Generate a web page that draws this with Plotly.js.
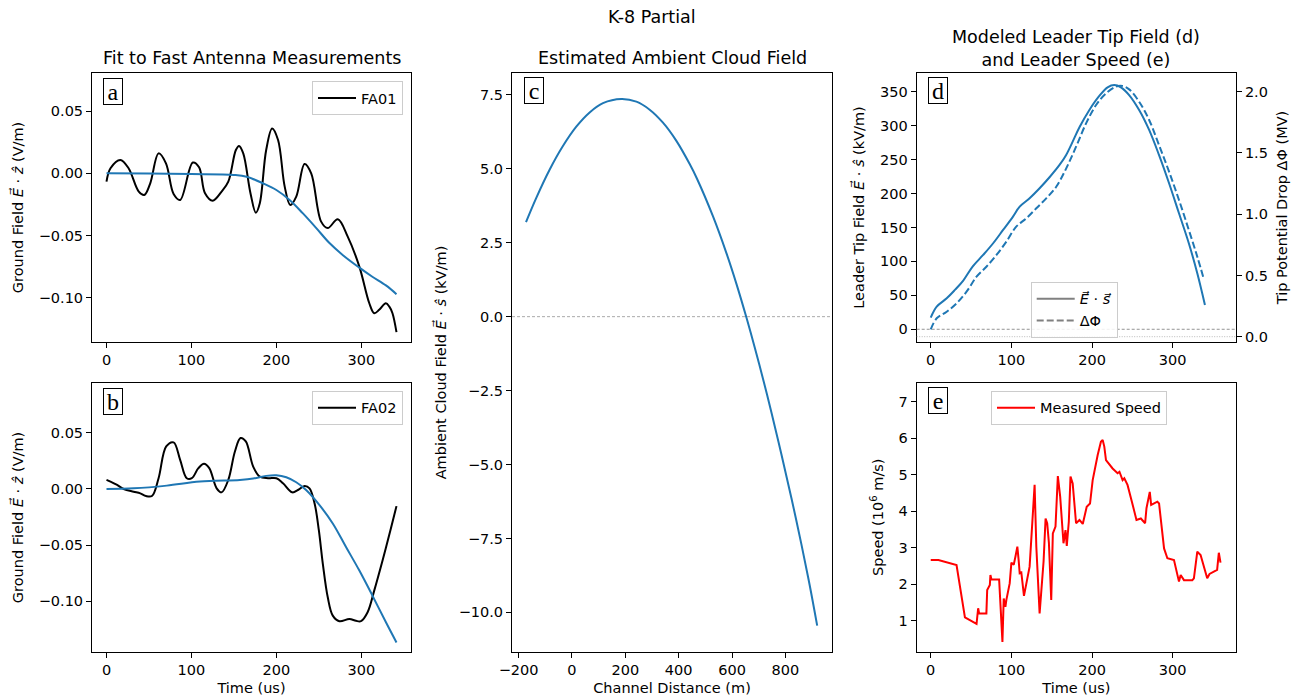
<!DOCTYPE html>
<html>
<head>
<meta charset="utf-8">
<script src="https://cdn.plot.ly/plotly-3.0.1.min.js"></script>
<style>html,body{margin:0;padding:0;background:#fff;}#chart{width:1304px;height:700px;}</style>
</head>
<body>
<div id="chart"></div>
<script>
// ---------- DATA ----------
// Panel a: FA01 measured and fit
const faTimeA = [0,4.7,16.4,26,38,44.5,51.5,61.3,70,79,86.7,101.6,109,116,125,135.5,143.4,152.3,156,161,169.5,175.8,180.5,188,195,202,209.8,216.4,223.4,233.2,241,252.7,260.5,272.3,284,297.7,309.4,315.2,321,328.9,333,336.7,341.4];
const fa01 = [-0.0067,0.004,0.0107,0.004,-0.0147,-0.0174,-0.008,0.016,0.008,-0.0166,-0.0214,0.0086,0.0048,-0.016,-0.022,-0.0147,-0.0067,0.0187,0.022,0.016,-0.016,-0.0316,-0.024,0.0187,0.036,0.0267,-0.0107,-0.0254,-0.0187,0.0075,0.0,-0.0388,-0.044,-0.0369,-0.0508,-0.0749,-0.1043,-0.1123,-0.1096,-0.1043,-0.107,-0.1123,-0.1275];
const fitTimeA = [0,50,100,150,165,184,200,215.6,231,247,262.5,278,297.7,313,329,341.4];
const fit01 = [0,-0.0002,-0.0006,-0.0013,-0.0027,-0.008,-0.0134,-0.0214,-0.032,-0.044,-0.056,-0.0655,-0.0757,-0.083,-0.090,-0.097];

// Panel b: FA02 measured and fit
const faTimeB = [0,4.7,12.5,20.3,32,39.8,46.5,53.5,61.3,70.3,79,86.7,94.5,100.4,108.2,114.8,121,129.7,135.5,143.4,151.2,157.8,164,172.7,180.5,190.2,200,207.8,218.75,225.4,233.2,239,245,250,254.7,260.5,266.4,274.2,286,293.75,299.6,307.4,315.2,325,334.8,341.4];
const fa02 = [0.0081,0.0066,0.0036,0.0,-0.0024,-0.0039,-0.0063,-0.0063,0.0096,0.038,0.0416,0.026,0.0096,0.0096,0.0186,0.0225,0.0186,0.0006,-0.003,0.0081,0.0335,0.0455,0.0425,0.02,0.011,0.0096,0.0096,0.0051,-0.003,-0.0009,0.0027,0.0006,-0.0129,-0.0368,-0.0668,-0.0967,-0.113,-0.118,-0.116,-0.1177,-0.118,-0.110,-0.0907,-0.0638,-0.0353,-0.0153];
const fitTimeB = [0,32,71,110,157,172.7,188,200,211.7,223.4,235,250.8,266.4,282,297.7,313,329,341.4];
const fit02 = [0,0.0006,0.003,0.0066,0.0081,0.0093,0.0117,0.0123,0.0105,0.006,-0.0009,-0.0144,-0.0308,-0.0518,-0.0728,-0.095,-0.119,-0.137];

// Panel c: ambient cloud field vs channel distance
const chanDist = [-172,-133.5,-83.6,-33.7,16.4,66.4,116.3,185.2,241.5,291.3,341.2,391.4,441.3,468.7,528.7,578.9,616.4,653.9,685,718.8,747.6,785.1,822.6,860.1,891.3,919];
const ambField = [3.20,4.02,4.97,5.77,6.425,6.907,7.22,7.36,7.27,7.00,6.56,5.945,5.16,4.665,3.39,2.15,1.11,-0.03,-1.04,-2.20,-3.24,-4.66,-6.14,-7.71,-9.10,-10.45];

// Panel d: leader tip field (kV/m) and potential drop (MV)
const tipTime = [0,7.4,19.8,30,40.3,51.9,65,77.4,89.7,102,110.3,122.6,135,147.3,159.7,167.9,176,184.4,196.7,209,219.3,227.6,235.8,246,258.4,270.8,283,295.5,307.8,320,330.5,340];
const tipField = [17.2,33.4,45.6,58,71.7,92.3,109.5,126.7,146.3,166,180.7,193,207.7,223.9,242,256.8,276.4,297.5,323,343.6,356.4,359.8,356.4,345,323,293.6,256.8,215,170.8,126.7,82.5,35.8];
const dropTime = [0,7.4,19.8,32,44.4,56.8,69,81.5,93.8,106,118.5,130.9,143.2,155.6,168,180.2,192.6,205,217.3,229.6,237.9,246,258.4,270.8,283,295.5,307.8,320,330.5,338.7];
const potDrop = [0.06,0.15,0.204,0.272,0.367,0.49,0.571,0.667,0.776,0.898,0.966,1.048,1.129,1.224,1.374,1.551,1.741,1.891,1.986,2.041,2.046,2.019,1.918,1.769,1.565,1.347,1.116,0.871,0.653,0.468];

// Panel e: measured speed (10^6 m/s)
const speedTime = [0,9.5,32,42.4,56.8,58.8,60,69,70,73.3,74,75.3,84.8,88.9,90.5,92.6,93.8,97.9,100,102.9,105,107.4,109,110.3,112.3,115.6,122.6,128.8,130.9,135,139.9,142.4,144.4,146.5,149.4,151.4,154.7,157.6,160.5,163,164.6,167.1,168.7,171.2,173.3,176,178.2,180.2,184.4,188.5,193.4,197.5,200.8,204,207,211,213.2,215.2,217.3,225.5,231.7,234,237.9,240,244,249.4,255.1,260.5,265.8,267.5,271.6,273.3,281,283.1,289.3,293.4,301.6,307.8,309.9,314,324.3,326.3,330.5,334.6,338.7,342.8,345.7,355.1,357.2,359.3];
const speed = [2.66,2.66,2.525,1.09,0.91,1.34,1.2,1.2,1.84,1.98,2.25,2.13,2.13,0.42,1.61,1.38,1.57,2.02,2.59,2.53,2.75,3.03,2.66,2.30,2.32,1.68,2.48,4.72,3.03,1.2,2.62,3.80,3.67,3.14,1.57,3.39,3.58,4.96,4.40,3.53,3.12,3.48,3.05,3.71,4.95,4.76,4.21,3.67,3.76,3.65,4.12,4.21,4.85,5.26,5.54,5.90,5.95,5.77,5.40,5.17,5.04,5.08,4.85,4.9,4.72,4.26,3.76,3.80,3.67,4.08,4.53,4.17,4.26,4.21,2.98,2.71,2.66,2.07,2.25,2.11,2.11,2.16,2.89,2.80,2.48,2.16,2.28,2.39,2.86,2.59];

// Text
const suptitle = 'K-8 Partial';
const titleA = 'Fit to Fast Antenna Measurements';
const titleC = 'Estimated Ambient Cloud Field';
const titleD = 'Modeled Leader Tip Field (d)<br>and Leader Speed (e)';
const panelLetters = ['a','b','c','d','e'];

// ---------- LAYOUT HELPERS ----------
const W = 1304, H = 700;
const px = v => v / W;
const py = v => 1 - v / H;
const BLUE = '#1f77b4';
const FONT = 'DejaVu Sans';

function axis(extra) {
  return Object.assign({
    showline: true, linecolor: '#000', linewidth: 1, mirror: true,
    ticks: 'outside', ticklen: 5, tickwidth: 1, tickcolor: '#000',
    showgrid: false, zeroline: false, autorange: false,
    tickfont: {family: FONT, size: 14.5, color: '#000'}
  }, extra);
}
function ttl(text, standoff) {
  return {text: text, font: {family: FONT, size: 14.5, color: '#000'}, standoff: standoff};
}
function legendBox(xr, yt) {
  return {x: px(xr), y: py(yt), xanchor: 'right', yanchor: 'top',
    bgcolor: 'rgba(255,255,255,0.85)', bordercolor: '#cccccc', borderwidth: 1,
    itemwidth: 38,
    font: {family: FONT, size: 14.5, color: '#000'}};
}

const traces = [
  {x: faTimeA, y: fa01, xaxis: 'x', yaxis: 'y', mode: 'lines', name: 'FA01',
   line: {color: '#000', width: 2, shape: 'spline', smoothing: 1}, legend: 'legend'},
  {x: fitTimeA, y: fit01, xaxis: 'x', yaxis: 'y', mode: 'lines', showlegend: false,
   line: {color: BLUE, width: 2, shape: 'spline'}},
  {x: faTimeB, y: fa02, xaxis: 'x2', yaxis: 'y2', mode: 'lines', name: 'FA02',
   line: {color: '#000', width: 2, shape: 'spline', smoothing: 1}, legend: 'legend2'},
  {x: fitTimeB, y: fit02, xaxis: 'x2', yaxis: 'y2', mode: 'lines', showlegend: false,
   line: {color: BLUE, width: 2, shape: 'spline'}},
  {x: chanDist, y: ambField, xaxis: 'x3', yaxis: 'y3', mode: 'lines', showlegend: false,
   line: {color: BLUE, width: 2, shape: 'spline', smoothing: 1}},
  {x: tipTime, y: tipField, xaxis: 'x4', yaxis: 'y4', mode: 'lines', showlegend: false,
   line: {color: BLUE, width: 2, shape: 'spline'}},
  {x: dropTime, y: potDrop, xaxis: 'x4', yaxis: 'y6', mode: 'lines', showlegend: false,
   line: {color: BLUE, width: 2, shape: 'spline', dash: '7px,3px'}},
  {x: [null], y: [null], xaxis: 'x4', yaxis: 'y4', mode: 'lines', name: '<i>E⃗</i> · <i>s⃗</i>',
   line: {color: '#808080', width: 2}, legend: 'legend3'},
  {x: [null], y: [null], xaxis: 'x4', yaxis: 'y4', mode: 'lines', name: 'ΔΦ',
   line: {color: '#808080', width: 2, dash: '7px,3px'}, legend: 'legend3'},
  {x: speedTime, y: speed, xaxis: 'x5', yaxis: 'y5', mode: 'lines', name: 'Measured Speed',
   line: {color: '#ff0000', width: 2}, legend: 'legend4'}
];

const timeTicks = [0, 100, 200, 300];

const layout = {
  width: W, height: H,
  margin: {l: 0, r: 0, t: 0, b: 0},
  paper_bgcolor: '#fff', plot_bgcolor: '#fff',
  font: {family: FONT, color: '#000', size: 14.5},
  showlegend: true,
  xaxis: axis({domain: [px(92), px(411)], anchor: 'y', range: [-17.07, 358.5], tickvals: timeTicks}),
  yaxis: axis({domain: [py(342), py(73)], anchor: 'x', range: [-0.1354, 0.0805],
    tickvals: [-0.1, -0.05, 0, 0.05], tickformat: '.2f',
    title: ttl('Ground Field <i>E⃗</i> · <i>ẑ</i> (V/m)', 11)}),
  xaxis2: axis({domain: [px(92), px(411)], anchor: 'y2', range: [-17.07, 358.5], tickvals: timeTicks,
    title: ttl('Time (us)', 5)}),
  yaxis2: axis({domain: [py(652), py(383)], anchor: 'x2', range: [-0.1455, 0.0946],
    tickvals: [-0.1, -0.05, 0, 0.05], tickformat: '.2f',
    title: ttl('Ground Field <i>E⃗</i> · <i>ẑ</i> (V/m)', 11)}),
  xaxis3: axis({domain: [px(512), px(832)], anchor: 'y3', range: [-224.5, 974.5],
    tickvals: [-200, 0, 200, 400, 600, 800], title: ttl('Channel Distance (m)', 5)}),
  yaxis3: axis({domain: [py(652), py(73)], anchor: 'x3', range: [-11.34, 8.24],
    tickvals: [-10, -7.5, -5, -2.5, 0, 2.5, 5, 7.5], tickformat: '.1f',
    title: ttl('Ambient Cloud Field <i>E⃗</i> · <i>ŝ</i> (kV/m)', 8)}),
  xaxis4: axis({domain: [px(916.7), px(1236)], anchor: 'y4', range: [-17.4, 378.5], tickvals: timeTicks}),
  yaxis4: axis({domain: [py(341.7), py(73.3)], anchor: 'x4', range: [-18.3, 377],
    tickvals: [0, 50, 100, 150, 200, 250, 300, 350],
    title: ttl('Leader Tip Field <i>E⃗</i> · <i>ŝ</i> (kV/m)', 12)}),
  yaxis6: axis({overlaying: 'y4', side: 'right', anchor: 'x4', mirror: false, range: [-0.041, 2.150],
    tickvals: [0, 0.5, 1, 1.5, 2], tickformat: '.1f',
    title: ttl('Tip Potential Drop ΔΦ (MV)', 9)}),
  xaxis5: axis({domain: [px(916.7), px(1236)], anchor: 'y5', range: [-17.4, 378.5], tickvals: timeTicks,
    title: ttl('Time (us)', 5)}),
  yaxis5: axis({domain: [py(651.7), py(382.7)], anchor: 'x5', range: [0.15, 7.52],
    tickvals: [1, 2, 3, 4, 5, 6, 7],
    title: ttl('Speed (10<sup>6</sup> m/s)', 11)}),
  legend: legendBox(403, 81),
  legend2: legendBox(403, 390.7),
  legend3: legendBox(1117.7, 281.7),
  legend4: legendBox(1167, 390.7),
  shapes: [
    {type: 'line', xref: 'x3 domain', x0: 0, x1: 1, yref: 'y3', y0: 0, y1: 0,
     line: {color: '#aaaaaa', width: 1, dash: '3px,2px'}},
    {type: 'line', xref: 'x4 domain', x0: 0, x1: 1, yref: 'y4', y0: 0, y1: 0,
     line: {color: '#777777', width: 0.8, dash: '3px,2px'}},
    {type: 'line', xref: 'x4 domain', x0: 0, x1: 1, yref: 'y6', y0: 0, y1: 0,
     line: {color: '#aaaaaa', width: 0.8, dash: '1px,1.5px'}}
  ],
  annotations: []
};

// Titles
const titleFont = {family: FONT, size: 17.5, color: '#000'};
layout.annotations.push({text: suptitle, xref: 'paper', yref: 'paper', x: 0.5, y: py(17), xanchor: 'center', yanchor: 'middle', showarrow: false, font: titleFont});
layout.annotations.push({text: titleA, xref: 'paper', yref: 'paper', x: px(251.5), y: py(58), xanchor: 'center', yanchor: 'middle', showarrow: false, font: titleFont});
layout.annotations.push({text: titleC, xref: 'paper', yref: 'paper', x: px(672), y: py(58), xanchor: 'center', yanchor: 'middle', showarrow: false, font: titleFont});
layout.annotations.push({text: titleD, xref: 'paper', yref: 'paper', x: px(1076.3), y: py(48), xanchor: 'center', yanchor: 'middle', showarrow: false, font: titleFont});

// Panel letters
const letterPos = [[103, 78], [103, 388.3], [524, 77.3], [928.3, 77.3], [928.3, 386.7]];
panelLetters.forEach((l, i) => {
  layout.annotations.push({text: l, xref: 'paper', yref: 'paper', x: px(letterPos[i][0]), y: py(letterPos[i][1]),
    xanchor: 'left', yanchor: 'top', showarrow: false, width: 18, height: 25, borderpad: 0,
    bordercolor: '#000', borderwidth: 1, bgcolor: '#fff',
    font: {family: 'Liberation Serif', size: 24, color: '#000'}});
});

Plotly.newPlot('chart', traces, layout, {displayModeBar: false, staticPlot: true});
</script>
</body>
</html>
